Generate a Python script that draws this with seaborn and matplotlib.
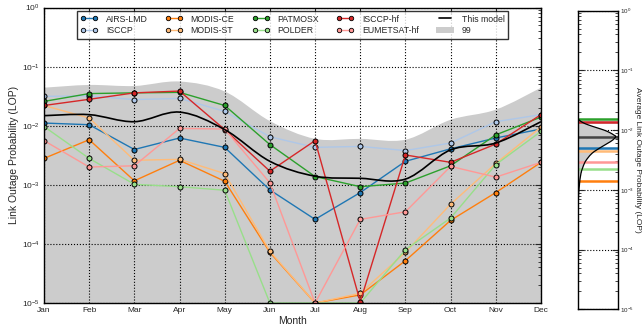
import numpy as np
import pandas as pd
import matplotlib
matplotlib.use("Agg")
import matplotlib.pyplot as plt
import seaborn as sns
from matplotlib.path import Path
from matplotlib.patches import PathPatch, Patch
from matplotlib.lines import Line2D

# ------------------------------------------------------------
# data
# ------------------------------------------------------------
months = ["Jan", "Feb", "Mar", "Apr", "May", "Jun",
          "Jul", "Aug", "Sep", "Oct", "Nov", "Dec"]

datasets = ["AIRS-LMD", "ISCCP", "MODIS-CE", "MODIS-ST",
            "PATMOSX", "POLDER", "ISCCP-hf", "EUMETSAT-hf"]
colors = ["#1f77b4", "#aec7e8", "#ff7f0e", "#ffbb78",
          "#2ca02c", "#98df8a", "#d62728", "#ff9896"]

airs_lmd = [1.11e-2, 1.04e-2, 3.96e-3, 6.2e-3, 4.3e-3, 8.2e-4,
            2.6e-4, 7.4e-4, 2.5e-3, 4.07e-3, 6.2e-3, 8.8e-3]
isccp = [3.14e-2, 3.2e-2, 2.77e-2, 2.9e-2, 1.75e-2, 6.5e-3,
         4.3e-3, 4.47e-3, 3.8e-3, 5.1e-3, 1.17e-2, 1.54e-2]
modis_ce = [2.8e-3, 5.8e-3, 1.17e-3, 2.6e-3, 1.15e-3, 7.2e-5,
            1.0e-5, 1.37e-5, 5.2e-5, 2.5e-4, 7.4e-4, 2.4e-3]
modis_st = [2.2e-2, 1.35e-2, 2.6e-3, 2.7e-3, 1.55e-3, 7.5e-5,
            1.0e-5, 1.46e-5, 7.2e-5, 4.7e-4, 2.3e-3, 9.5e-3]
patmosx = [2.58e-2, 3.5e-2, 3.6e-2, 3.67e-2, 2.2e-2, 4.8e-3,
           1.38e-3, 9.3e-4, 1.07e-3, 2.1e-3, 7.0e-3, 1.4e-2]
polder = [9.7e-3, 2.8e-3, 1.02e-3, 9.3e-4, 8.1e-4, 1.0e-5,
          1.0e-5, 1.0e-5, 8.0e-5, 2.74e-4, 2.2e-3, 8.0e-3]
isccp_hf = [2.2e-2, 2.8e-2, 3.6e-2, 3.86e-2, 8.6e-3, 1.7e-3,
            5.6e-3, 1.05e-5, 3.2e-3, 2.4e-3, 4.9e-3, 1.54e-2]
eumetsat_hf = [5.6e-3, 2.0e-3, 2.1e-3, 9.0e-3, 8.8e-3, 1.08e-3,
               1.0e-5, 2.6e-4, 3.5e-4, 2.05e-3, 1.35e-3, 2.4e-3]

model = [1.48e-2, 1.54e-2, 1.17e-2, 1.7e-2, 8.6e-3, 2.5e-3,
         1.4e-3, 1.29e-3, 1.25e-3, 3.9e-3, 5.1e-3, 1.17e-2]
band_upper = [4.4e-2, 4.9e-2, 4.7e-2, 5.6e-2, 3.8e-2, 1.2e-2,
              6.0e-3, 6.0e-3, 5.8e-3, 1.26e-2, 1.87e-2, 4.4e-2]

# yearly averages (right panel)
avg_values = [5.0e-3, 1.37e-2, 1.43e-3, 4.55e-3, 1.56e-2, 2.23e-3, 1.37e-2, 2.9e-3]
model_avg = 7.8e-3

# distribution of the model's average (right panel), log10(LOP) vs relative density
pdf_log = [-1.75, -1.818, -1.87, -1.913, -1.96, -1.997, -2.04, -2.08, -2.108,
           -2.164, -2.22, -2.276, -2.33, -2.387, -2.47, -2.554, -2.722, -2.945,
           -3.168, -3.5, -4.0, -5.0]
pdf_dens = [0.0, 0.02, 0.12, 0.27, 0.48, 0.65, 0.80, 0.90, 0.95,
            0.88, 0.75, 0.61, 0.48, 0.36, 0.25, 0.17, 0.083, 0.04,
            0.017, 0.008, 0.003, 0.0]

series = [airs_lmd, isccp, modis_ce, modis_st, patmosx, polder, isccp_hf, eumetsat_hf]
df = pd.DataFrame({
    "month": np.tile(np.arange(len(months)), len(datasets)),
    "lop": np.concatenate(series),
    "dataset": np.repeat(datasets, len(months)),
})


def smooth_path(xs, ys, log_y=True):
    """Catmull-Rom -> cubic bezier path (computed in log space for y)."""
    xs = np.asarray(xs, float)
    ys = np.log10(ys) if log_y else np.asarray(ys, float)
    pts = np.column_stack([xs, ys])
    verts = [pts[0]]
    codes = [Path.MOVETO]
    n = len(pts)
    for i in range(n - 1):
        p0 = pts[max(i - 1, 0)]
        p1 = pts[i]
        p2 = pts[i + 1]
        p3 = pts[min(i + 2, n - 1)]
        verts += [p1 + (p2 - p0) / 6.0, p2 - (p3 - p1) / 6.0, p2]
        codes += [Path.CURVE4] * 3
    verts = np.array(verts)
    if log_y:
        verts[:, 1] = 10 ** verts[:, 1]
    return verts, codes


# ------------------------------------------------------------
# style
# ------------------------------------------------------------
sns.set_style("white")
plt.rcParams.update({
    "font.family": ["Liberation Sans", "DejaVu Sans"],
    "mathtext.fontset": "cm",
    "axes.linewidth": 1.0,
    "axes.edgecolor": "black",
})

fig = plt.figure(figsize=(6.44, 3.28), dpi=100)
ax = fig.add_axes([0.0683, 0.0762, 0.7717, 0.9008])
ax2 = fig.add_axes([0.8970, 0.0570, 0.0621, 0.9104])

ax.set_yscale("log")
ax.set_xlim(0, 11)
ax.set_ylim(1e-5, 1)

# 99% band
verts, codes = smooth_path(np.arange(12), band_upper)
verts = np.vstack([verts, [[11, 1e-7], [0, 1e-7], [0, 1e-7]]])
codes = codes + [Path.LINETO, Path.LINETO, Path.CLOSEPOLY]
ax.add_patch(PathPatch(Path(verts, codes), facecolor="#cccccc",
                       edgecolor="none", zorder=0.5))

sns.lineplot(data=df, x="month", y="lop", hue="dataset", hue_order=datasets,
             palette=colors, marker="o", markersize=3.6, markeredgecolor="black",
             markeredgewidth=0.7, linewidth=1.0, estimator=None, sort=False,
             legend=False, ax=ax, zorder=2)

# this model (smooth)
verts, codes = smooth_path(np.arange(12), model)
ax.add_patch(PathPatch(Path(verts, codes), facecolor="none", edgecolor="black",
                       linewidth=1.2, zorder=2.2))

ax.set_xticks(np.arange(12))
ax.set_xticklabels(months)
ax.set_xlabel("Month", fontsize=7.5, labelpad=1)
ax.set_ylabel("Link Outage Probability (LOP)", fontsize=7.5, labelpad=2)
ax.tick_params(which="both", direction="in", top=True, right=True,
               labelsize=6, pad=3)
ax.tick_params(which="major", length=4, width=0.8)
ax.tick_params(which="minor", length=2, width=0.6)
ax.grid(True, which="major", linestyle=":", color="black", linewidth=0.8)
ax.set_axisbelow("line")

handles = [Line2D([], [], color=c, marker="o", markersize=3.2, lw=1.0,
                  markeredgecolor="black", markeredgewidth=0.6) for c in colors]
handles += [Line2D([], [], color="black", lw=1.2),
            Patch(facecolor="#cccccc", edgecolor="none")]
labels = datasets + ["This model", "99"]
leg = ax.legend(handles, labels, loc="upper center", ncol=5, fontsize=6.3,
                numpoints=2, handlelength=2.0, columnspacing=2.0,
                handletextpad=0.9, borderaxespad=0.4, frameon=True,
                fancybox=False, labelspacing=0.3)
leg.get_frame().set_edgecolor("black")
leg.get_frame().set_linewidth(1.0)

# ------------------------------------------------------------
# right panel: averages
# ------------------------------------------------------------
ax2.set_yscale("log")
ax2.set_ylim(1e-5, 1)
ax2.set_xlim(0, 1)

for v, c in zip(avg_values, colors):
    ax2.axhline(v, color=c, linewidth=1.8, zorder=2)
ax2.axhline(model_avg, color="#444444", linewidth=1.8, zorder=2)

pdf_lin = 10 ** np.array(pdf_log)
fill_idx = [i for i, l in enumerate(pdf_log) if -2.95 <= l <= -1.8]
fv, fc = smooth_path(np.array(pdf_dens)[fill_idx], pdf_lin[fill_idx])
fv = np.vstack([fv, [[0, pdf_lin[fill_idx[-1]]], [0, pdf_lin[fill_idx[0]]],
                     [0, pdf_lin[fill_idx[0]]]]])
fc = fc + [Path.LINETO, Path.LINETO, Path.CLOSEPOLY]
ax2.add_patch(PathPatch(Path(fv, fc), facecolor="#cccccc", edgecolor="none",
                        zorder=1))
cv, cc = smooth_path(pdf_dens, pdf_lin)
ax2.add_patch(PathPatch(Path(cv, cc), facecolor="none", edgecolor="black",
                        linewidth=0.9, zorder=3))

ax2.set_xticks([])
ax2.yaxis.tick_right()
ax2.yaxis.set_label_position("right")
ax2.tick_params(which="both", direction="in", left=True, right=True,
                labelsize=4.5, pad=1.5)
ax2.tick_params(which="major", length=4, width=0.8)
ax2.tick_params(which="minor", length=2, width=0.6)
ax2.yaxis.grid(True, which="major", linestyle=":", color="black", linewidth=0.8)
ax2.set_ylabel("Average Link Outage Probability (LOP)", fontsize=6,
               rotation=270, va="bottom", labelpad=0.5)

fig.savefig("out.png", dpi=100)
